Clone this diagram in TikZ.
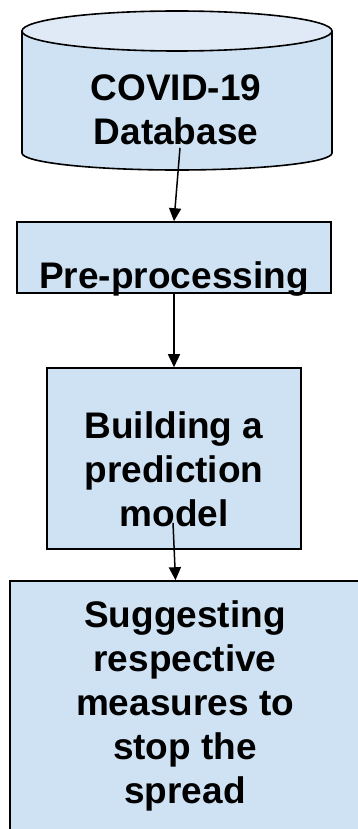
\documentclass[tikz,border=0pt]{standalone}
\usepackage{fontspec}
\setmainfont{Liberation Sans}
\usepackage{xcolor}
\usepackage{tikz}
\usetikzlibrary{arrows.meta, positioning, shapes.geometric}

\definecolor{boxblue}{HTML}{CFE2F3}
\definecolor{dbtop}{HTML}{DFEAF6}

\begin{document}
\begin{tikzpicture}[
  x=1pt, y=1pt,
  every node/.style={draw, line width=1.6pt, align=center, inner sep=0pt,
    font=\bfseries\fontsize{37}{44}\selectfont},
  stepbox/.style={rectangle, fill=boxblue},
  dbtext/.style={rectangle, draw=none},
  outline/.style={line width=1.6pt},
  arrow/.style={-{Triangle[length=13pt, width=12pt]}, line width=1.5pt}
]
\useasboundingbox (0,0) rectangle (358,-829);
\clip (0,0) rectangle (358,-829);

% database cylinder
\filldraw[outline, fill=boxblue] (22,-31) -- (22,-153) arc[start angle=180, end angle=360, x radius=155, y radius=17] -- (332,-31);
\filldraw[outline, fill=dbtop] (177,-31) ellipse [x radius=155, y radius=20];

\node[dbtext, minimum width=310pt, minimum height=159pt] (db) at (176,-90.5) {\rule{0pt}{63.5pt}COVID-19\\Database};
\node[stepbox, minimum width=314pt, minimum height=71pt, text height=61pt, text depth=0pt] (pre) at (174,-257.5) {Pre-processing};
\node[stepbox, minimum width=254pt, minimum height=181pt] (model) at (174,-458.5) {\rule{0pt}{49pt}Building a\\prediction\\model};
\node[stepbox, minimum width=350pt, minimum height=250pt] (spread) at (185,-706) {Suggesting\\respective\\measures to\\stop the\\spread};

\draw[arrow] ([xshift=4pt, yshift=23pt]db.south) -- (pre.north);
\draw[arrow] (pre) -- (model);
\draw[arrow] ([xshift=-1pt, yshift=27pt]model.south) -- ([xshift=-9.5pt]spread.north);

\end{tikzpicture}
\end{document}
